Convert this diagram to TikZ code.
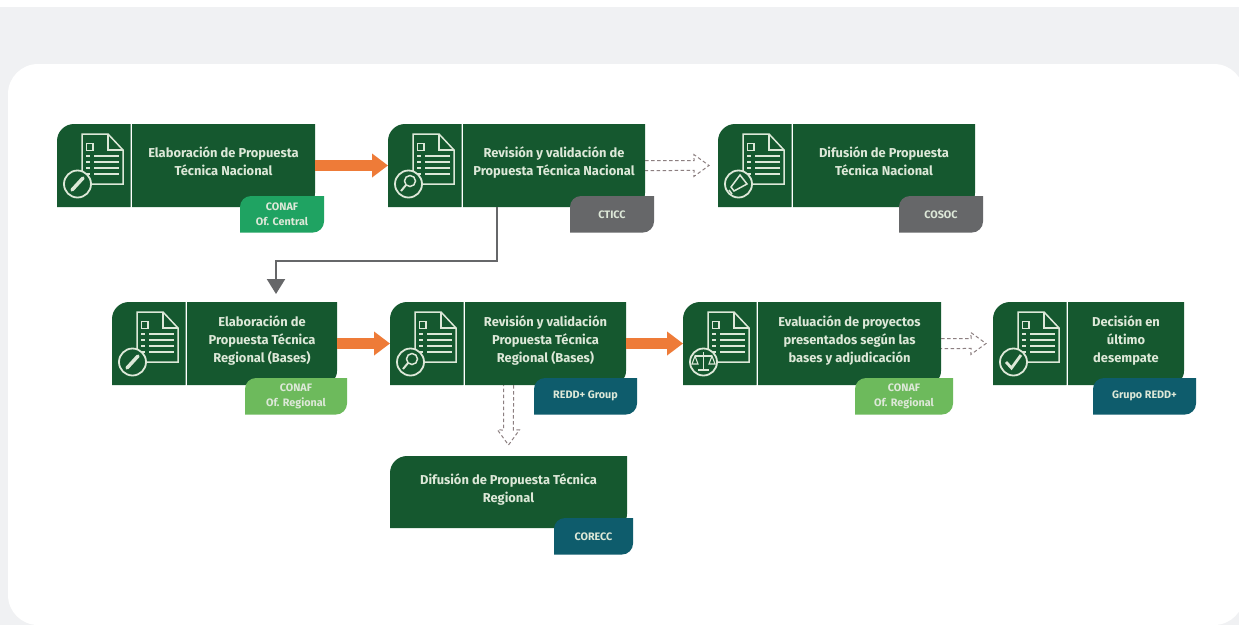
\documentclass[tikz,border=0pt]{standalone}
\usepackage{fontspec}
\setmainfont{Fira Sans}
\usetikzlibrary{positioning, calc, arrows.meta}

\definecolor{pageback}{HTML}{F0F1F3}
\definecolor{forest}{HTML}{15582F}
\definecolor{paleline}{HTML}{DDE8D8}
\definecolor{centralgreen}{HTML}{1FA362}
\definecolor{regionalgreen}{HTML}{6DBA5C}
\definecolor{slategray}{HTML}{666769}
\definecolor{deepteal}{HTML}{0E5C6C}
\definecolor{carrot}{HTML}{EE7B38}
\definecolor{dashgray}{HTML}{8C7F80}

\tikzset{
  leaf/.style n args={3}{path picture={
    \fill [#1] (path picture bounding box.south west) [rounded corners=#2] -- (path picture bounding box.north west) [sharp corners] -- (path picture bounding box.north east) [rounded corners=#3] -- (path picture bounding box.south east) [sharp corners] -- cycle;
  }},
  iconcell/.style={inner sep=0pt, outer sep=0pt, minimum width=73.5pt, minimum height=83pt, leaf={forest}{17pt}{0.1pt}},
  bodycell/.style={inner sep=0pt, outer sep=0pt, minimum height=83pt, align=center, text=paleline, font=\fontsize{12.9}{18}\selectfont\bfseries, leaf={forest}{0.1pt}{14pt}, execute at end node={\vrule width 0pt depth 8pt}},
  tagbox/.style={inner sep=0pt, outer sep=0pt, minimum height=36.5pt, align=center, text=paleline, font=\fontsize{10.8}{15}\selectfont\bfseries},
  iconline/.style={draw=paleline, line width=1.5pt},
  orangearrow/.style={draw=carrot, line width=11pt, -{Triangle[width=23pt,length=16pt]}},
  elbowarrow/.style={draw=slategray, line width=2.2pt, -{Triangle[width=18pt,length=15pt]}},
  hollowarrow/.style={draw=dashgray, line width=1pt, dash pattern=on 3.5pt off 2.5pt, to path={
    ($(\tikztostart)!5pt!90:(\tikztotarget)$) -- ($(\tikztotarget)!15.8pt!-18.4:(\tikztostart)$) -- ($(\tikztotarget)!18.6pt!-36:(\tikztostart)$) -- (\tikztotarget) -- ($(\tikztotarget)!18.6pt!36:(\tikztostart)$) -- ($(\tikztotarget)!15.8pt!18.4:(\tikztostart)$) -- ($(\tikztostart)!5pt!-90:(\tikztotarget)$)}}
}

% document outline with its round badge; #2 is the badge symbol
\newcommand{\docicon}[2]{
  \begin{scope}[shift={(#1.north west)}, iconline]
    \draw (25,10) -- (51,10) -- (66,26) -- (66,60) -- (25,60) -- cycle;
    \draw (51,10) -- (51,26) -- (66,26);
    \draw (29.5,19.5) rectangle (36,26.5);
    \foreach \ly in {32,38,44,50} {
      \draw (37,\ly) -- (62,\ly);
      \draw (29,\ly) -- (32.5,\ly);
    }
    \filldraw [fill=forest, line width=1.8pt] (20.5,60) circle (13.5);
    #2
  \end{scope}
}

\begin{document}
\begin{tikzpicture}[x=1pt, y=-1pt]

\useasboundingbox (0,0) rectangle (1239,625);
\fill [white] (0,0) rectangle (1239,625);
\fill [pageback] (0,7) rectangle (1239,625);
\fill [white, rounded corners=30pt] (8,64) rectangle (1244,625);

% first row
\node (elabnacicon) [iconcell, anchor=north west] at (57,124) {};
\node (elabnac) [bodycell, minimum width=183pt, right=1.5pt of elabnacicon] {Elaboración de Propuesta\\Técnica Nacional};
\node (revnacicon) [iconcell, right=73pt of elabnac] {};
\node (revnac) [bodycell, minimum width=182pt, right=1.5pt of revnacicon] {Revisión y validación de\\Propuesta Técnica Nacional};
\node (difnacicon) [iconcell, right=73pt of revnac] {};
\node (difnac) [bodycell, minimum width=182pt, right=1.5pt of difnacicon] {Difusión de Propuesta\\Técnica Nacional};

% second row
\node (elabregicon) [iconcell, anchor=north west] at (112,302) {};
\node (elabreg) [bodycell, minimum width=150pt, right=1.5pt of elabregicon] {Elaboración de\\Propuesta Técnica\\Regional (Bases)};
\node (revregicon) [iconcell, right=53pt of elabreg] {};
\node (revreg) [bodycell, minimum width=161pt, right=1.5pt of revregicon] {Revisión y validación\\Propuesta Técnica\\Regional (Bases)};
\node (evalicon) [iconcell, right=57pt of revreg] {};
\node (eval) [bodycell, minimum width=183pt, right=1.5pt of evalicon] {Evaluación de proyectos\\presentados según las\\bases y adjudicación};
\node (decisionicon) [iconcell, right=52pt of eval] {};
\node (decision) [bodycell, minimum width=116pt, right=1.5pt of decisionicon] {Decisión en\\último\\desempate};

% third row
\node (difreg) [bodycell, minimum width=237pt, minimum height=72pt, anchor=north west, leaf={forest}{17pt}{14pt}] at (390,456) {Difusión de Propuesta Técnica\\Regional};

% tags
\node (elabnactag) [tagbox, minimum width=84pt, below left=-11pt and -9pt of elabnac.south east, leaf={centralgreen}{11pt}{11pt}] {CONAF\\Of. Central};
\node (revnactag) [tagbox, minimum width=84pt, below left=-11pt and -9pt of revnac.south east, leaf={slategray}{11pt}{11pt}] {CTICC};
\node (difnactag) [tagbox, minimum width=84pt, below left=-11pt and -8pt of difnac.south east, leaf={slategray}{11pt}{11pt}] {COSOC};
\node (elabregtag) [tagbox, minimum width=102pt, below left=-7pt and -10pt of elabreg.south east, leaf={regionalgreen}{11pt}{11pt}] {CONAF\\Of. Regional};
\node (revregtag) [tagbox, minimum width=103pt, below left=-7pt and -11pt of revreg.south east, leaf={deepteal}{11pt}{11pt}] {REDD+ Group};
\node (evaltag) [tagbox, minimum width=98pt, below left=-7pt and -12pt of eval.south east, leaf={regionalgreen}{11pt}{11pt}] {CONAF\\Of. Regional};
\node (decisiontag) [tagbox, minimum width=103pt, below left=-7pt and -12pt of decision.south east, leaf={deepteal}{11pt}{11pt}] {Grupo REDD+};
\node (difregtag) [tagbox, minimum width=79pt, below left=-10pt and -6pt of difreg.south east, leaf={deepteal}{11pt}{11pt}] {CORECC};

% icons
\docicon{elabnacicon}{\draw [line width=3.5pt, line cap=round] (15,66) -- (26,54);}
\docicon{revnacicon}{\draw (22,57) circle (5.5); \draw [line width=2pt] (18,61) -- (13,67);}
\docicon{difnacicon}{\draw (13,63) -- (22,51) -- (29,60) -- (16,67) -- cycle; \draw (11,66) -- (14,70);}
\docicon{elabregicon}{\draw [line width=3.5pt, line cap=round] (15,66) -- (26,54);}
\docicon{revregicon}{\draw (22,57) circle (5.5); \draw [line width=2pt] (18,61) -- (13,67);}
\docicon{evalicon}{\draw [line width=1.1pt] (20.5,50) -- (20.5,68) (15,68) -- (26,68) (12,54) -- (29,54); \draw [line width=1.1pt] (9,62) -- (12,54) -- (15,62) -- cycle; \draw [line width=1.1pt] (26,62) -- (29,54) -- (32,62) -- cycle;}
\docicon{decisionicon}{\draw [line width=2.8pt] (13,60) -- (18.5,66) -- (28,53);}

% connectors
\draw [orangearrow] (elabnac) -- (revnacicon);
\draw [orangearrow] (elabreg) -- (revregicon);
\draw [orangearrow] (revreg) -- (evalicon);
\draw [hollowarrow] (revnac.east) to ([xshift=-9pt]difnacicon.west);
\draw [hollowarrow] (eval.east) to ([xshift=-7pt]decisionicon.west);
\draw [hollowarrow] (difreg.north |- revreg.south) to ([yshift=11pt]difreg.north);
\draw [elbowarrow] ([xshift=-57pt]revnac.south) -- ++(0,54) -| ([xshift=14pt,yshift=8pt]elabreg.north);

\end{tikzpicture}
\end{document}
